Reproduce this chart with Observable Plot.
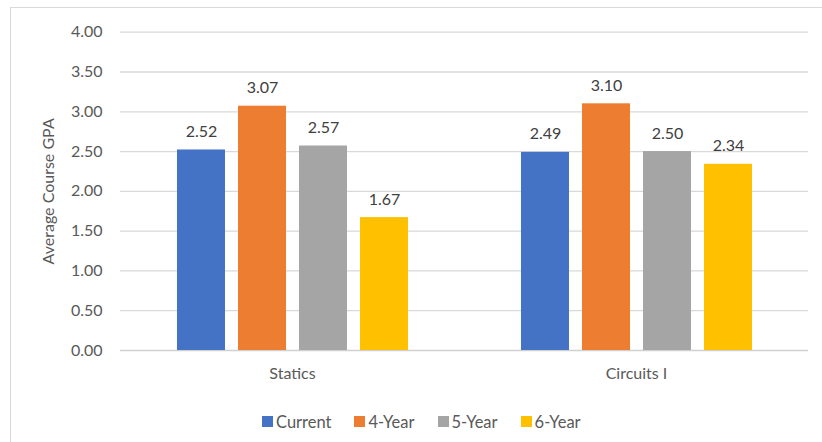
<!DOCTYPE html>
<html>
<head>
<meta charset="utf-8">
<script src="https://cdn.jsdelivr.net/npm/d3@7"></script>
<script src="https://cdn.jsdelivr.net/npm/@observablehq/plot@0.6"></script>
<style>
  html, body { margin: 0; padding: 0; background: #fff; overflow: hidden; }
  #chart { position: relative; width: 822px; height: 442px; overflow: hidden; }
  #frame { position: absolute; left: 10px; top: 7px; width: 900px; height: 500px;
           border-left: 1px solid #d9d9d9; border-top: 1px solid #d9d9d9; }
  #plot { position: absolute; left: 0; top: 0; }
  #legend { position: absolute; left: 262px; top: 405px; }
  .gpa-swatch { margin-right: 23px !important; font-size: 16.5px !important; color: #595959; }
  .gpa-swatch > svg { margin-right: 3px !important; }
</style>
</head>
<body>
<div id="chart">
  <div id="frame"></div>
  <div id="plot"></div>
  <div id="legend"></div>
</div>
<script>
// Average course GPA by pathway for two gateway courses
const courses = ["Statics", "Circuits I"];
const series = ["Current", "4-Year", "5-Year", "6-Year"];
const staticsGPA = [2.52, 3.07, 2.57, 1.67];
const circuitsGPA = [2.49, 3.10, 2.50, 2.34];
const yTicks = [0, 0.5, 1, 1.5, 2, 2.5, 3, 3.5, 4];
const seriesColors = ["#4472C4", "#ED7D31", "#A5A5A5", "#FFC000"];

const rows = [
  ...series.map((s, i) => ({course: courses[0], series: s, gpa: staticsGPA[i]})),
  ...series.map((s, i) => ({course: courses[1], series: s, gpa: circuitsGPA[i]}))
];

const plot = Plot.plot({
  width: 822,
  height: 398,
  marginTop: 31.7,
  marginBottom: 48,
  marginLeft: 120,
  marginRight: 14,
  style: {fontFamily: "Lato, sans-serif", fontSize: "16px", color: "#595959", background: "transparent"},
  fx: {domain: courses, padding: 0, label: null},
  x: {domain: series, paddingInner: 0.218, paddingOuter: 0.884, axis: null},
  y: {domain: [0, 4], ticks: yTicks},
  color: {domain: series, range: seriesColors},
  marks: [
    Plot.ruleY(yTicks.filter(t => t > 0), {stroke: "#d9d9d9", strokeWidth: 1.3}),
    Plot.ruleY([0], {stroke: "#d0d0d0", strokeWidth: 1.6}),
    Plot.barY(rows, {fx: "course", x: "series", y: "gpa", fill: "series"}),
    Plot.text(rows, {
      fx: "course", x: "series", y: "gpa",
      text: d => d.gpa.toFixed(2),
      lineAnchor: "bottom", dy: -13, fill: "#404040", fontSize: 16
    }),
    Plot.axisY({
      ticks: yTicks, tickFormat: ".2f", tickSize: 0, tickPadding: 18,
      label: "Average Course GPA", labelAnchor: "center", labelArrow: false,
      labelOffset: 78, fill: "#595959"
    }),
    Plot.axisFx({anchor: "bottom", tickSize: 0, tickPadding: 17, label: null, fill: "#595959"})
  ]
});
document.getElementById("plot").append(plot);

const legend = plot.legend("color", {
  swatchSize: 11,
  className: "gpa",
  style: {fontFamily: "Lato, sans-serif", fontSize: "16.5px", color: "#595959"}
});
document.getElementById("legend").append(legend);
</script>
</body>
</html>
